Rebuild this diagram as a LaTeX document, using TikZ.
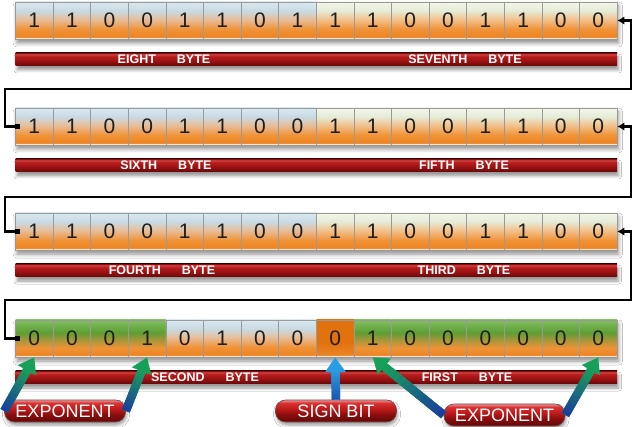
\documentclass[tikz,border=0pt]{standalone}
\usepackage{fontspec}
\setmainfont{Liberation Sans}
\usetikzlibrary{arrows.meta,calc,shadows.blur}
\definecolor{cstrip}{HTML}{FDE2C6}
\definecolor{cor1}{HTML}{EC8424}
\definecolor{cor2}{HTML}{F09236}
\definecolor{cpeachb}{HTML}{E6BE9C}
\definecolor{cbtop2}{HTML}{C8DAE2}
\definecolor{cbtop}{HTML}{DAE9F1}
\definecolor{cpeachy}{HTML}{F2C28E}
\definecolor{cytop2}{HTML}{E4EBD6}
\definecolor{cytop}{HTML}{F3F6EA}
\definecolor{cgolive}{HTML}{A8963A}
\definecolor{cgmid}{HTML}{5E9E34}
\definecolor{cgtop}{HTML}{80C060}
\definecolor{csign}{HTML}{E2720E}
\definecolor{csignb}{HTML}{EA8426}
\definecolor{cline}{HTML}{9A9A9A}
\definecolor{cdigit}{HTML}{1E1E1E}
\definecolor{rb1}{HTML}{4A0505}
\definecolor{rb2}{HTML}{700A0A}
\definecolor{rb3}{HTML}{9A1212}
\definecolor{rb4}{HTML}{B81C1C}
\definecolor{rb5}{HTML}{CC4444}
\definecolor{rb6}{HTML}{8A0E0E}
\definecolor{pl1}{HTML}{A04040}
\definecolor{pl2}{HTML}{6A0808}
\definecolor{pl3}{HTML}{8A0E0E}
\definecolor{pl4}{HTML}{C01C1C}
\definecolor{pl5}{HTML}{D83030}
\definecolor{pl6}{HTML}{EE9090}
\definecolor{pedge}{HTML}{6A4A4A}
\definecolor{ablue}{HTML}{1A3C9E}
\definecolor{agreen}{HTML}{18A05A}
\definecolor{sblue}{HTML}{1C56AE}
\definecolor{slight}{HTML}{2A9CE4}
\pgfdeclareverticalshading{cellb}{100bp}{color(0bp)=(cstrip); color(25bp)=(cstrip); color(26.8bp)=(cstrip); color(27.8bp)=(cor1); color(38bp)=(cor2); color(52bp)=(cpeachb); color(63bp)=(cbtop2); color(75bp)=(cbtop); color(100bp)=(cbtop)}
\pgfdeclareverticalshading{celly}{100bp}{color(0bp)=(cstrip); color(25bp)=(cstrip); color(26.8bp)=(cstrip); color(27.8bp)=(cor1); color(38bp)=(cor2); color(52bp)=(cpeachy); color(63bp)=(cytop2); color(75bp)=(cytop); color(100bp)=(cytop)}
\pgfdeclareverticalshading{cellg}{100bp}{color(0bp)=(cstrip); color(25bp)=(cstrip); color(26.8bp)=(cstrip); color(27.8bp)=(cor1); color(37bp)=(cor2); color(48bp)=(cgolive); color(58bp)=(cgmid); color(75bp)=(cgtop); color(100bp)=(cgtop)}
\pgfdeclareverticalshading{cells}{100bp}{color(0bp)=(cstrip); color(25bp)=(cstrip); color(26.8bp)=(cstrip); color(27.8bp)=(csignb); color(45bp)=(csign); color(75bp)=(csign); color(100bp)=(csign)}
\pgfdeclareverticalshading{barsh}{100bp}{color(0bp)=(rb1); color(25bp)=(rb1); color(29bp)=(rb2); color(45bp)=(rb3); color(62bp)=(rb4); color(70bp)=(rb5); color(73bp)=(rb4); color(75bp)=(rb6); color(100bp)=(rb6)}
\pgfdeclareverticalshading{pillsh}{100bp}{color(0bp)=(pl1); color(25bp)=(pl1); color(28bp)=(pl2); color(42bp)=(pl3); color(56bp)=(pl4); color(68bp)=(pl5); color(75bp)=(pl6); color(100bp)=(pl6)}
\newcommand\gradarrow[4]{%
  \draw[line width=8.5pt, -{Triangle[length=15pt,width=20pt]}, #4] (#1) -- (#2);
  \coordinate (hb) at ($(#2)!14pt!(#1)$);
  \foreach \i in {0,...,11}{%
    \pgfmathsetmacro\fa{\i/12}%
    \pgfmathsetmacro\fb{min(1,(\i+1.2)/12)}%
    \pgfmathtruncatemacro\pc{100*(\i+0.5)/12}%
    \draw[line width=8.5pt, #4!\pc!#3] ($(#1)!\fa!(hb)$) -- ($(#1)!\fb!(hb)$);
  }%
}
\begin{document}
\begin{tikzpicture}[x=1pt,y=-1pt,
  bitcell/.style={draw=cline, line width=0.5pt, minimum width=37.6pt, minimum height=37pt, inner sep=0pt, font=\fontsize{21}{21}\selectfont, text=cdigit},
  bytebar/.style={shading=barsh, minimum width=601.6pt, minimum height=13pt, inner sep=0pt, blur shadow={shadow xshift=1.5pt, shadow yshift=-4pt, shadow blur radius=3pt, shadow opacity=40}},
  barlabel/.style={text=white, font=\bfseries\fontsize{12.5}{12.5}\selectfont, inner sep=0pt},
  pillbox/.style={shading=pillsh, draw=pedge, line width=0.6pt, rounded corners=10pt, minimum width=121pt, minimum height=22pt, inner sep=0pt, text=white, font=\fontsize{18}{18}\selectfont, blur shadow={shadow xshift=1pt, shadow yshift=-3pt, shadow blur radius=3pt, shadow opacity=40}},
  linkline/.style={line width=2.4pt, black, line join=miter, {Square[length=5pt,width=5.5pt]}-{Latex[length=7pt,width=8.5pt]}, shorten <=-5pt}
]
\useasboundingbox (0,0) rectangle (640,427);
\fill[white] (0,0) rectangle (640,427);

\foreach \r/\ry/\bits in {
 1/2/{1/b,1/b,0/b,0/b,1/b,1/b,0/b,1/b,1/y,1/y,0/y,0/y,1/y,1/y,0/y,0/y},
 2/108/{1/b,1/b,0/b,0/b,1/b,1/b,0/b,0/b,1/y,1/y,0/y,0/y,1/y,1/y,0/y,0/y},
 3/213/{1/b,1/b,0/b,0/b,1/b,1/b,0/b,0/b,1/y,1/y,0/y,0/y,1/y,1/y,0/y,0/y},
 4/320/{0/g,0/g,0/g,1/g,0/b,1/b,0/b,0/b,0/s,1/g,0/g,0/g,0/g,0/g,0/g,0/g}}{
  \fill[white, blur shadow={shadow xshift=1.5pt, shadow yshift=-4pt, shadow blur radius=4pt, shadow opacity=45}] (15.5,\ry) rectangle (617.1,{\ry+37});
  \foreach \v/\k [count=\i from 0] in \bits {
    \node[bitcell, shading=cell\k] (c\r-\i) at ({15.5+37.6*(\i+0.5)},{\ry+18.5}) {\v};
  }
  \node[bytebar] (bar\r) at (316.3,{\ry+57.5}) {};
}

\node[barlabel] (t8) at (164,59.5) {EIGHT\hspace{21pt}BYTE};
\node[barlabel] (t7) at (465,59.5) {SEVENTH\hspace{21pt}BYTE};
\node[barlabel] (t6) at (166,165.5) {SIXTH\hspace{21pt}BYTE};
\node[barlabel] (t5) at (464,165.5) {FIFTH\hspace{21pt}BYTE};
\node[barlabel] (t4) at (162,270.5) {FOURTH\hspace{21pt}BYTE};
\node[barlabel] (t3) at (464,270.5) {THIRD\hspace{21pt}BYTE};
\node[barlabel] (t2) at (205,377.5) {SECOND\hspace{21pt}BYTE};
\node[barlabel] (t1) at (467,377.5) {FIRST\hspace{21pt}BYTE};

\coordinate (k1a) at (5,89);  \coordinate (k1b) at (631,89);
\coordinate (k2a) at (5,197); \coordinate (k2b) at (631,197);
\coordinate (k3a) at (5,300); \coordinate (k3b) at (631,300);
\draw[linkline] (c2-0.west) -| (k1a) -| (k1b) |- (c1-15.east);
\draw[linkline] (c3-0.west) -| (k2a) -| (k2b) |- (c2-15.east);
\draw[linkline] (c4-0.west) -| (k3a) -| (k3b) |- (c3-15.east);

\node[pillbox] (expL) at (65,411) {EXPONENT};
\node[pillbox] (sign) at (336,411) {SIGN BIT};
\node[pillbox] (expR) at (504.5,415) {EXPONENT};

\gradarrow{expL.west}{c4-0.south}{ablue}{agreen}
\gradarrow{expL.east}{c4-3.south}{ablue}{agreen}
\gradarrow{sign.north}{c4-8.south}{sblue}{slight}
\gradarrow{expR.west}{c4-9.south}{ablue}{agreen}
\gradarrow{expR.east}{c4-15.south}{ablue}{agreen}
\end{tikzpicture}
\end{document}
